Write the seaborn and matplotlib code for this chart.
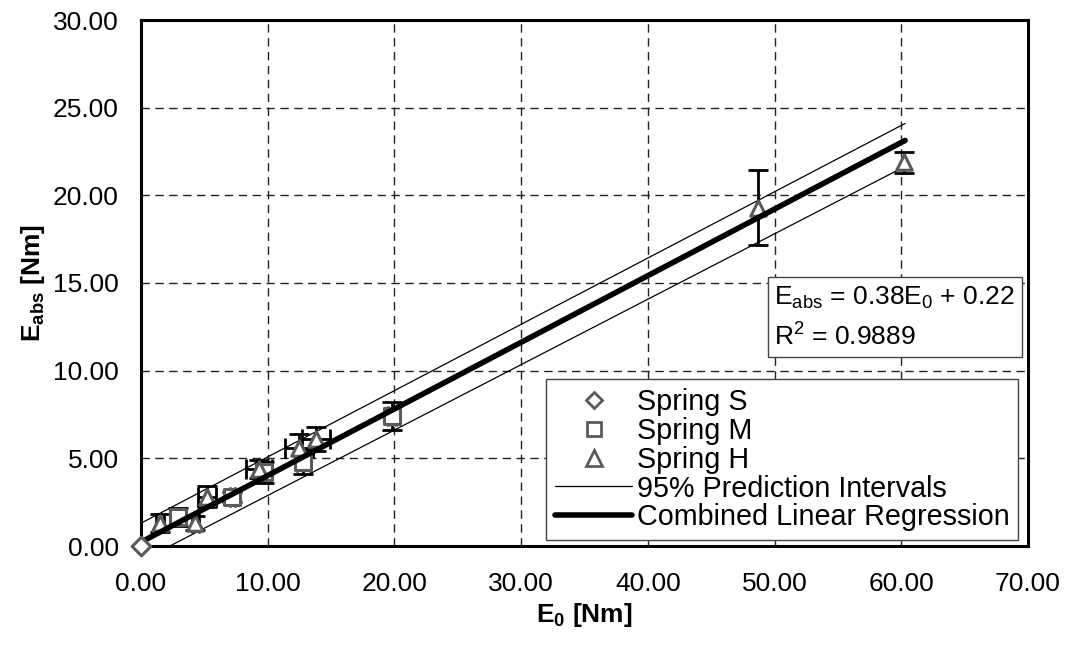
import numpy as np
import pandas as pd
import matplotlib
matplotlib.use("Agg")
import matplotlib.pyplot as plt
from matplotlib.ticker import MultipleLocator, FormatStrFormatter
from matplotlib.lines import Line2D
from matplotlib.legend_handler import HandlerLine2D
import seaborn as sns

# ---------------- data ----------------
s_x = [0.0]
s_y = [0.0]

m_x = [2.9, 7.2, 9.7, 12.8, 19.8]
m_y = [1.65, 2.8, 4.2, 4.8, 7.4]
m_yerr = [0.5, 0.3, 0.6, 0.7, 0.8]
m_xerr = [0.6, 0.2, 0.5, 0.5, 0.3]

h_x = [1.5, 4.3, 5.2, 9.3, 12.5, 13.8, 48.7, 60.2]
h_y = [1.3, 1.3, 2.8, 4.4, 5.6, 6.1, 19.3, 21.9]
h_yerr = [0.5, 0.4, 0.6, 0.5, 0.8, 0.7, 2.15, 0.6]
h_xerr = [0.3, 0.3, 0.7, 1.0, 1.1, 1.1, 0.0, 0.0]

reg_x = [0.0, 60.3]
reg_y = [0.22, 23.13]
pi_x = [0.0, 60.3]
pi_upper = [1.3, 24.1]
pi_lower = [-0.85, 21.65]

# ---------------- style ----------------
sns.set_theme(style="white")
plt.rcParams["font.family"] = ["Liberation Sans", "DejaVu Sans"]
plt.rcParams["mathtext.fontset"] = "custom"
plt.rcParams["mathtext.rm"] = "Liberation Sans"
plt.rcParams["mathtext.it"] = "Liberation Sans"
plt.rcParams["mathtext.bf"] = "Liberation Sans:bold"
for k in ["text.color", "axes.labelcolor", "xtick.color", "ytick.color"]:
    plt.rcParams[k] = "black"

FS = 19
LFS = 20.7
fig = plt.figure(figsize=(10.7, 6.5), dpi=100)
ax = fig.add_axes([141/1070, 1 - 546/650, (1028 - 141)/1070, (546 - 20)/650])

gray = "#5a5a5a"

# prediction intervals
pi_df = pd.DataFrame({"x": pi_x + pi_x, "y": pi_upper + pi_lower,
                      "which": ["up", "up", "lo", "lo"]})
for w in ["up", "lo"]:
    sns.lineplot(data=pi_df[pi_df.which == w], x="x", y="y", ax=ax,
                 color="black", lw=0.9, zorder=3)

# error bars
ax.errorbar(m_x, m_y, yerr=m_yerr, xerr=m_xerr, fmt="none", ecolor="black",
            elinewidth=2, capsize=7, capthick=2, zorder=3.5)
ax.errorbar(h_x, h_y, yerr=h_yerr, xerr=h_xerr, fmt="none", ecolor="black",
            elinewidth=2, capsize=7, capthick=2, zorder=3.5)

# markers
sns.scatterplot(x=m_x, y=m_y, marker="s", s=130, facecolor="white",
                edgecolor=gray, linewidth=2.2, ax=ax, zorder=4)
sns.scatterplot(x=h_x, y=h_y, marker="^", s=125, facecolor="white",
                edgecolor=gray, linewidth=2.2, ax=ax, zorder=4)
sns.scatterplot(x=s_x, y=s_y, marker="D", s=90, facecolor="white",
                edgecolor=gray, linewidth=2.2, ax=ax, zorder=8, clip_on=False)

# regression
reg_df = pd.DataFrame({"x": reg_x, "y": reg_y})
sns.lineplot(data=reg_df, x="x", y="y", ax=ax, color="black", lw=4, zorder=6)

# axes
ax.set_xlim(0, 70)
ax.set_ylim(0, 30)
ax.xaxis.set_major_locator(MultipleLocator(10))
ax.xaxis.set_minor_locator(MultipleLocator(2))
ax.yaxis.set_major_locator(MultipleLocator(5))
ax.yaxis.set_minor_locator(MultipleLocator(1))
ax.xaxis.set_major_formatter(FormatStrFormatter("%.2f"))
ax.yaxis.set_major_formatter(FormatStrFormatter("%.2f"))
ax.tick_params(axis="both", which="major", direction="inout", length=10,
               width=1, labelsize=FS, color="black", labelcolor="black")
ax.tick_params(axis="both", which="minor", direction="out", length=6,
               width=1, color="black")
ax.tick_params(axis="x", which="major", pad=14)
ax.tick_params(axis="y", which="major", pad=11)
ax.grid(True, which="major", color="#222222", linestyle=(0, (6, 4)), lw=1)
for sp in ax.spines.values():
    sp.set_linewidth(2.2)
    sp.set_color("black")
    sp.set_visible(True)

ax.set_xlabel(r"$\mathbf{E_{0}}$ [Nm]", fontsize=FS, fontweight="bold",
              labelpad=3, color="black")
ax.set_ylabel(r"$\mathbf{E_{abs}}$ [Nm]", fontsize=FS, fontweight="bold",
              labelpad=4, color="black")

# equation box
ax.text(0.714, 0.4335, "E$_{\\mathrm{abs}}$ = 0.38E$_{0}$ + 0.22\nR$^{2}$ = 0.9889",
        transform=ax.transAxes, fontsize=FS, ha="left", va="center",
        linespacing=1.55, zorder=10, color="black",
        bbox=dict(boxstyle="square,pad=0.25", facecolor="white",
                  edgecolor="#444444", lw=1))


class LeftMarker(HandlerLine2D):
    def get_xdata(self, legend, xdescent, ydescent, width, height, fontsize):
        xdata = np.array([-xdescent, -xdescent + width])
        xdata_marker = np.array([-xdescent + 0.23 * width])
        return xdata, xdata_marker


# legend
handles = [
    Line2D([], [], marker="D", ls="none", mfc="white", mec=gray, mew=2, ms=8),
    Line2D([], [], marker="s", ls="none", mfc="white", mec=gray, mew=2, ms=10),
    Line2D([], [], marker="^", ls="none", mfc="white", mec=gray, mew=2, ms=11),
    Line2D([], [], color="black", lw=0.9),
    Line2D([], [], color="black", lw=4),
]
labels = ["Spring S", "Spring M", "Spring H", "95% Prediction Intervals",
          "Combined Linear Regression"]
leg = ax.legend(handles, labels, loc="lower right",
                bbox_to_anchor=((1018 - 141) / 887, (546 - 540) / 526),
                fontsize=LFS, frameon=True, fancybox=False, framealpha=1,
                edgecolor="#444444", handlelength=2.7, handletextpad=0.15,
                borderpad=0.3, labelspacing=0.03, borderaxespad=0.0,
                handler_map={Line2D: LeftMarker()})
leg.get_frame().set_linewidth(1)
leg.set_zorder(10)
for t in leg.get_texts():
    t.set_color("black")

fig.savefig("out.png", dpi=100)
